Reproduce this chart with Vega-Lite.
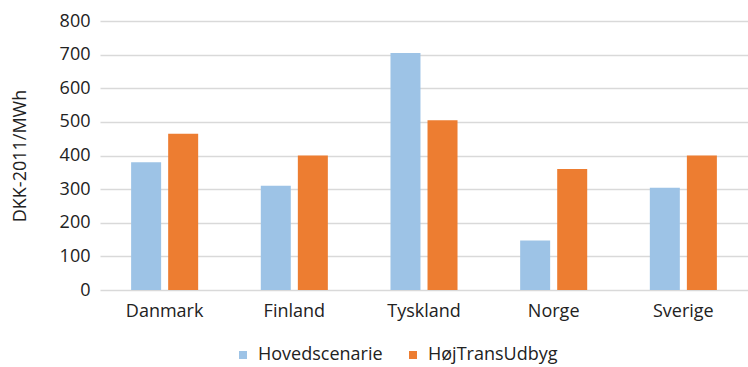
{
  "$schema": "https://vega.github.io/schema/vega-lite/v6.json",
  "width": 648,
  "height": 269,
  "autosize": {"type": "none"},
  "padding": {"left": 100, "top": 21, "right": 0, "bottom": 77},
  "background": "white",
  "data": {
    "values": [
      {"land": "Danmark", "scenarie": "Hovedscenarie", "pris": 380},
      {"land": "Danmark", "scenarie": "HøjTransUdbyg", "pris": 465},
      {"land": "Finland", "scenarie": "Hovedscenarie", "pris": 310},
      {"land": "Finland", "scenarie": "HøjTransUdbyg", "pris": 400},
      {"land": "Tyskland", "scenarie": "Hovedscenarie", "pris": 705},
      {"land": "Tyskland", "scenarie": "HøjTransUdbyg", "pris": 505},
      {"land": "Norge", "scenarie": "Hovedscenarie", "pris": 147},
      {"land": "Norge", "scenarie": "HøjTransUdbyg", "pris": 360},
      {"land": "Sverige", "scenarie": "Hovedscenarie", "pris": 304},
      {"land": "Sverige", "scenarie": "HøjTransUdbyg", "pris": 400}
    ]
  },
  "mark": {"type": "bar"},
  "encoding": {
    "x": {
      "field": "land",
      "type": "nominal",
      "sort": ["Danmark", "Finland", "Tyskland", "Norge", "Sverige"],
      "scale": {"paddingInner": 0.483, "paddingOuter": 0.24},
      "axis": {"title": null, "labelAngle": 0, "domain": false, "ticks": false, "labelPadding": 12, "labelFontSize": 18, "labelFont": "Open Sans", "labelColor": "#222222"}
    },
    "xOffset": {
      "field": "scenarie",
      "type": "nominal",
      "sort": ["Hovedscenarie", "HøjTransUdbyg"],
      "scale": {"paddingInner": 0.19, "paddingOuter": 0}
    },
    "y": {
      "field": "pris",
      "type": "quantitative",
      "scale": {"domain": [0, 800]},
      "axis": {"title": "DKK-2011/MWh", "titleFont": "Open Sans", "titleFontSize": 18, "titleFontWeight": "normal", "titleColor": "#222222", "titlePadding": 30, "values": [0,100,200,300,400,500,600,700,800], "domain": false, "ticks": false, "labelPadding": 10, "labelFontSize": 18, "labelFont": "Open Sans", "labelColor": "#222222", "gridColor": "#D9D9D9", "gridWidth": 1.3}
    },
    "color": {
      "field": "scenarie",
      "type": "nominal",
      "sort": ["Hovedscenarie", "HøjTransUdbyg"],
      "scale": {"domain": ["Hovedscenarie", "HøjTransUdbyg"], "range": ["#9DC3E6", "#ED7D31"]},
      "legend": {"title": null, "orient": "none", "legendX": 134, "legendY": 325, "direction": "horizontal", "symbolType": "square", "symbolSize": 64, "symbolStrokeWidth": 0, "labelOffset": 6, "labelFont": "Open Sans", "labelFontSize": 18, "labelColor": "#222222", "columnPadding": 21}
    }
  },
  "config": {"view": {"stroke": null}}
}
